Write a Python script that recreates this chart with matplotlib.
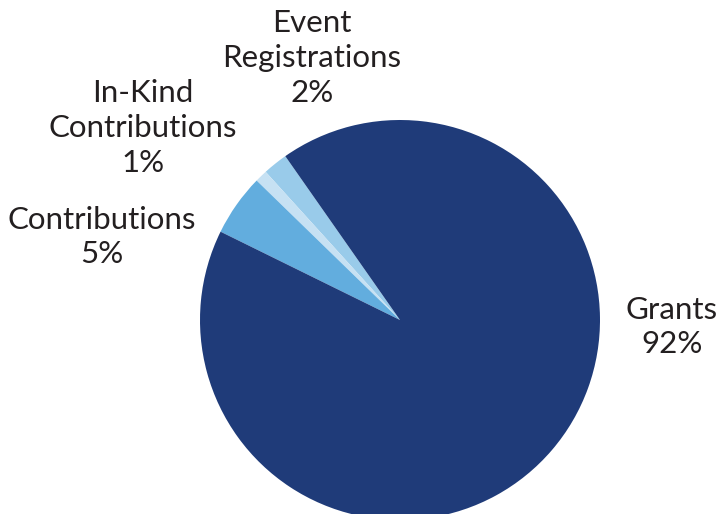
import matplotlib
matplotlib.use("Agg")
import matplotlib.pyplot as plt

# revenue share (percent)
labels = ["Event\nRegistrations", "In-Kind\nContributions", "Contributions", "Grants"]
values = [2, 1, 5, 92]
colors = ["#99CBEA", "#C6E1F3", "#62ADDE", "#1F3B79"]
label_pos = [(-0.44, 1.31), (-1.285, 0.96), (-1.49, 0.415), (1.36, -0.035)]

plt.rcParams['font.family'] = ['Lato', 'DejaVu Sans']

fig = plt.figure(figsize=(7.19, 5.14), dpi=100)
ax = fig.add_axes([0, 0, 1, 1])
ax.pie(values, colors=colors, startangle=125, counterclock=True,
       radius=1.0, center=(0, 0), wedgeprops=dict(linewidth=0))

for lab, v, (x, y) in zip(labels, values, label_pos):
    ax.text(x, y, "%s\n%d%%" % (lab, v), ha='center', va='center',
            fontsize=22.5, color='#231F20', linespacing=1.3)

ax.set_xlim(-2.0, 1.595)
ax.set_ylim(-0.97, 1.6)
ax.set_aspect('equal')
ax.axis('off')

fig.savefig("out.png", dpi=100)
